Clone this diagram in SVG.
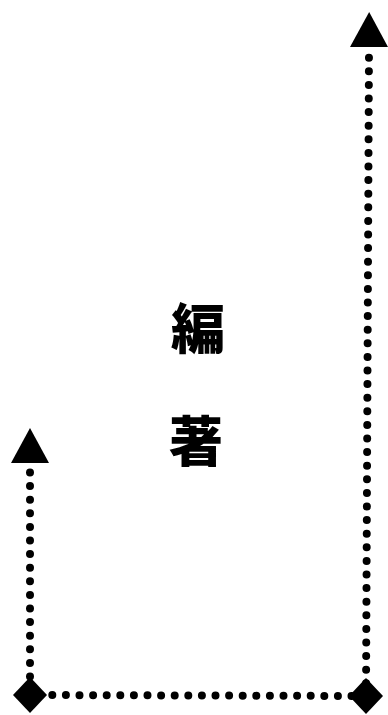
<svg xmlns="http://www.w3.org/2000/svg" width="388" height="715" viewBox="0 0 388 715">
  <style>
    .dots { fill: none; stroke: #000; stroke-width: 8; stroke-linecap: round; stroke-dasharray: 0 13.6; }
    .label { font-family: "Noto Sans CJK JP", "Noto Sans CJK SC", sans-serif; font-weight: 900; font-size: 54px; fill: #000; text-anchor: middle; }
  </style>
  <defs>
    <marker id="arrow" markerUnits="userSpaceOnUse" viewBox="-1 -20 37 40" refX="0" refY="0" markerWidth="37" markerHeight="40" orient="auto-start-reverse" overflow="visible">
      <polygon points="0,-19 35,0 0,19" fill="#000"/>
    </marker>
    <marker id="diamond" markerUnits="userSpaceOnUse" viewBox="-18 -19 36 38" refX="0" refY="0" markerWidth="36" markerHeight="38" orient="0" overflow="visible">
      <polygon points="-17,0 0,-18 17,0 0,18" fill="#000"/>
    </marker>
  </defs>
  <rect width="388" height="715" fill="#fff"/>
  <g id="connectors">
    <path class="dots" d="M30,463 L30,695 L366,696 L369,47" stroke-dashoffset="-9.5" marker-start="url(#arrow)" marker-mid="url(#diamond)" marker-end="url(#arrow)"/>
  </g>
  <g id="label">
    <text class="label" x="198" y="349">編</text>
    <text class="label" x="196" y="462">著</text>
  </g>
</svg>
